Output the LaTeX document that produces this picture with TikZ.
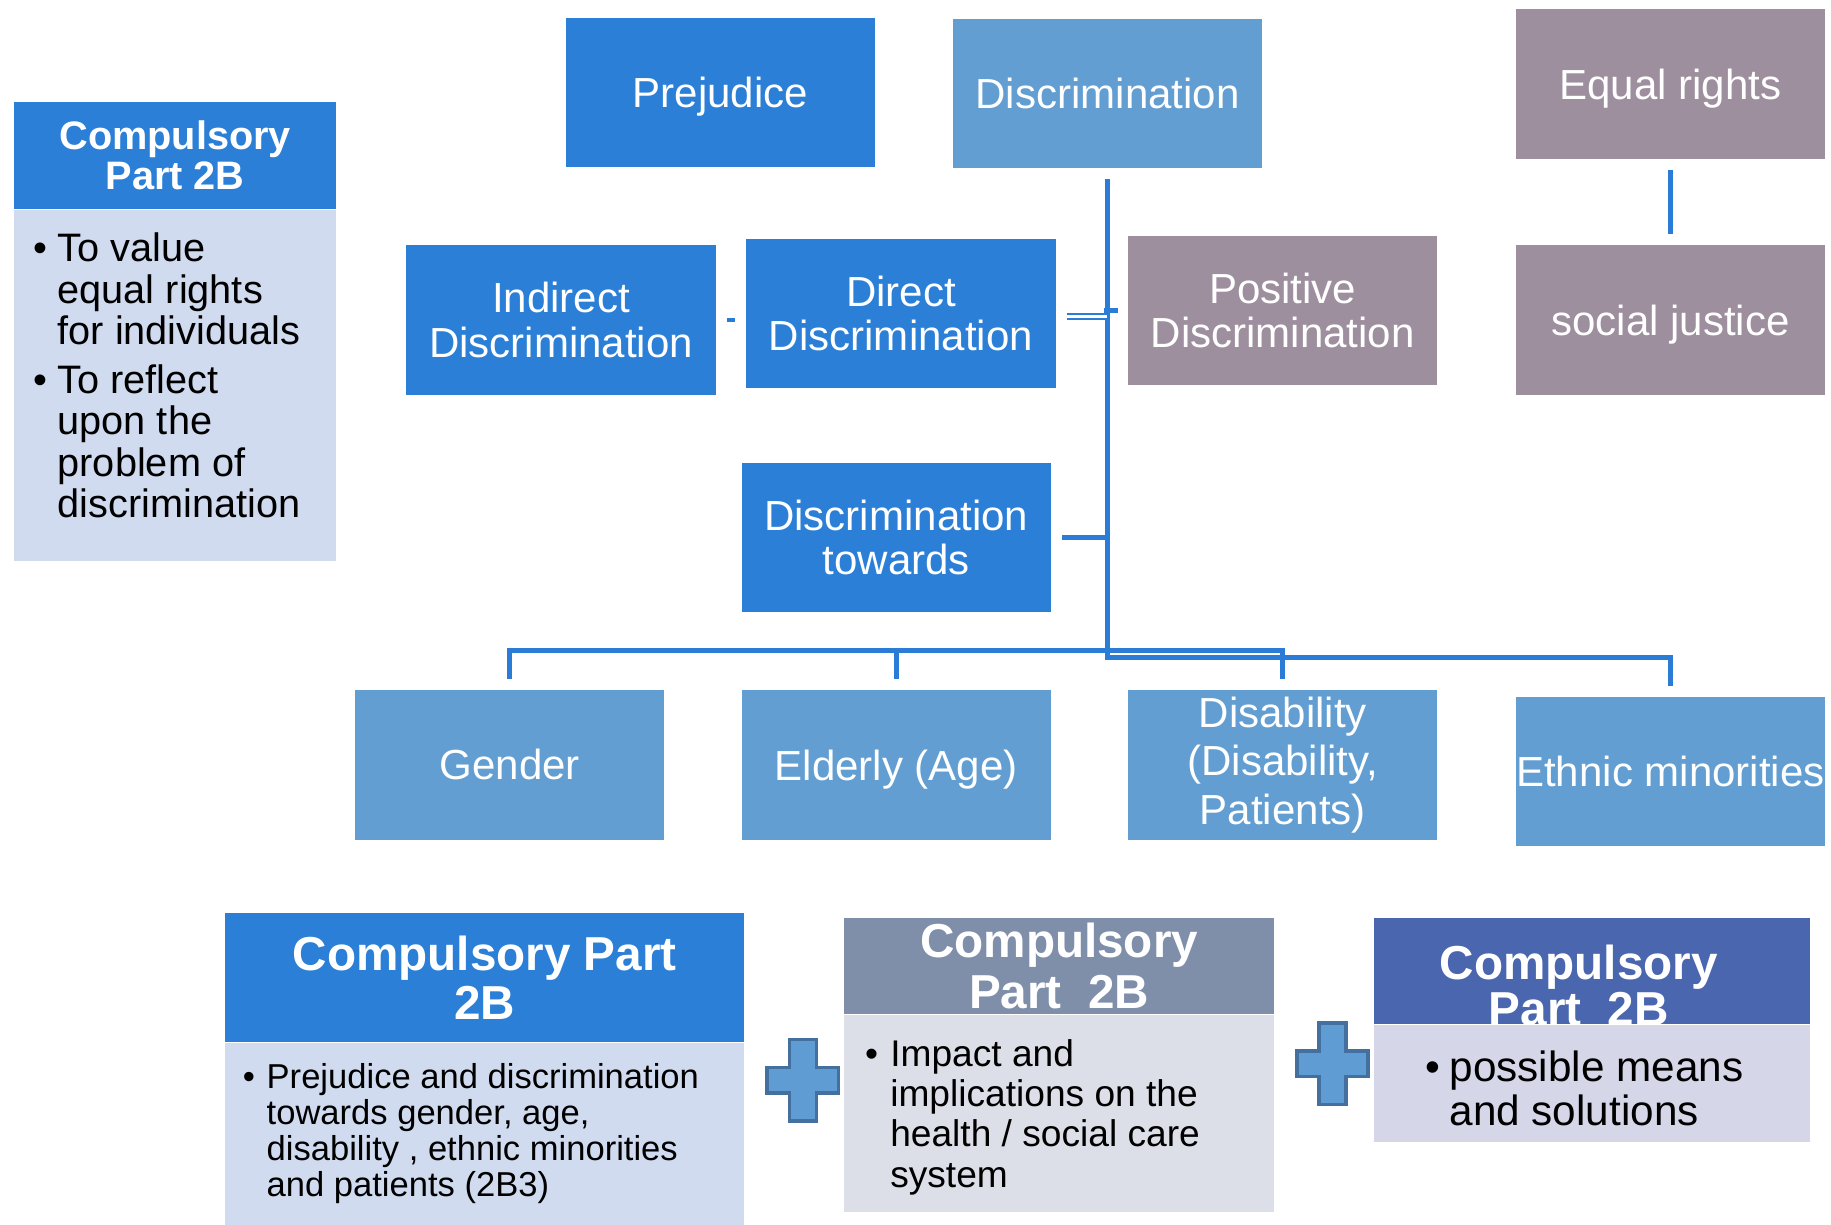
\documentclass[tikz,border=0pt]{standalone}
\usepackage{fontspec}
\setmainfont{Liberation Sans}
\definecolor{sblue}{HTML}{2B7FD6}
\definecolor{lblue}{HTML}{629ED2}
\definecolor{mauve}{HTML}{9E8F9F}
\definecolor{bodyblue}{HTML}{D0DBEF}
\definecolor{hdrgray}{HTML}{7F8FAA}
\definecolor{bodygray}{HTML}{DCDFE8}
\definecolor{hdrindigo}{HTML}{4A66AE}
\definecolor{bodylav}{HTML}{D5D7E8}
\definecolor{connblue}{HTML}{2B7CD6}
\definecolor{plusfill}{HTML}{5F9CD4}
\definecolor{plusedge}{HTML}{44709F}
\newcommand\bitem[1]{\hangindent=#1\hangafter=1\noindent\makebox[#1][l]{•}}
\begin{document}
\begin{tikzpicture}[x=0.5pt,y=-0.5pt,
  box/.style={rectangle, inner sep=0pt, minimum width=132.5pt, minimum height=64pt, align=center, text=white, font=\fontsize{18}{19}\selectfont},
  nodesc/.style={text depth=0pt},
  hdr/.style={rectangle, inner sep=0pt, align=center, text=white},
  bodyrect/.style={rectangle, inner sep=0pt, anchor=north},
  conn/.style={draw=connblue, line width=2pt},
  plusst/.style={fill=plusfill, draw=plusedge, line width=1.5pt, line join=miter}]
\useasboundingbox (0,0) rectangle (1568,1049);
\fill[white] (0,0) rectangle (1568,1049);

% main boxes
\node[box, nodesc, fill=sblue] (prej) at (617,79) {Prejudice};
\node[box, fill=lblue] (disc) at (948.5,80) {Discrimination};
\node[box, nodesc, fill=mauve] (equal) at (1430.5,72) {Equal rights};
\node[box, nodesc, fill=mauve] (social) at (1430.5,274) {social justice};
\node[box, fill=sblue] (indirect) at (480.5,274) {Indirect\\Discrimination};
\node[box, fill=sblue] (direct) at (771.5,268.5) {Direct\\Discrimination};
\node[box, fill=mauve] (positive) at (1098.5,266) {Positive\\Discrimination};
\node[box, fill=sblue] (towards) at (767.5,460.5) {Discrimination\\towards};
\node[box, fill=lblue] (gender) at (436.5,655) {Gender};
\node[box, nodesc, fill=lblue] (elderly) at (767.5,655) {Elderly (Age)};
\node[box, fill=lblue, font=\fontsize{18}{20.75}\selectfont] (disab) at (1098.5,655) {Disability\\(Disability,\\Patients)};
\node[box, fill=lblue] (ethnic) at (1430.5,660.5) {Ethnic minorities};

% connectors
\coordinate (trunkend) at (948.5,563);
\coordinate (busA) at (948.5,557);
\draw[conn] ([yshift=-4.5pt]disc.south) -- (trunkend) -| ([yshift=4.5pt]ethnic.north);
\draw[conn] ([yshift=4.5pt]gender.north) |- (busA) -| ([yshift=4.5pt]disab.north);
\draw[conn] ([yshift=4.5pt]elderly.north) -- (elderly.north |- busA);
\draw[conn] ([xshift=4.5pt]towards.east) -- (towards.east -| busA);
\draw[draw=connblue, line width=1pt, double=white, double distance=1pt] ([xshift=4.5pt,yshift=-1.25pt]direct.east) -- ++(17.5pt,0);
\draw[conn] ([xshift=-4pt]positive.west) -- ([xshift=-10pt]positive.west);
\draw[conn] ([xshift=4.5pt]indirect.east) -- ([xshift=-4.5pt]direct.west |- indirect.east);
\draw[conn] ([yshift=-4.5pt]equal.south) -- ([yshift=4.5pt]social.north);

% left box
\node[hdr, fill=sblue, minimum width=138pt, minimum height=46pt, font=\bfseries\fontsize{17}{17.5}\selectfont] (lhead) at (150,133) {Compulsory\\Part 2B};
\node[bodyrect, fill=bodyblue, minimum width=138pt, minimum height=150.5pt] (lbody) at (lhead.south) {};
\node[anchor=base west, inner sep=0pt] (ltext) at (28.3,224) {\parbox[t]{130pt}{\fontsize{17}{17.75}\selectfont
\bitem{10.35pt}To value\newline equal rights\newline for individuals\par\vspace{3.25pt}
\bitem{10.35pt}To reflect\newline upon the\newline problem of\newline discrimination\par}};

% bottom box A
\node[hdr, fill=sblue, minimum width=222pt, minimum height=55pt, font=\bfseries\fontsize{20.4}{21}\selectfont] (hA) at (415,837) {Compulsory Part\\2B};
\node[bodyrect, fill=bodyblue, minimum width=222pt, minimum height=78.5pt] (bA) at (hA.south) {};
\node[anchor=base west, inner sep=0pt] (tA) at (207.5,932) {\parbox[t]{210pt}{\fontsize{14.8}{15.5}\selectfont
\bitem{10.25pt}Prejudice and discrimination\newline towards gender, age,\newline disability , ethnic minorities\newline and patients (2B3)\par}};

% bottom box B
\node[hdr, fill=hdrgray, minimum width=184pt, minimum height=41pt, font=\bfseries\fontsize{20.4}{22}\selectfont] (hB) at (907,827) {Compulsory\\Part~~2B};
\node[bodyrect, fill=bodygray, minimum width=184pt, minimum height=84.5pt] (bB) at (hB.south) {};
\node[anchor=base west, inner sep=0pt] (tB) at (740.4,913) {\parbox[t]{170pt}{\fontsize{15.9}{17.25}\selectfont
\bitem{10.8pt}Impact and\newline implications on the\newline health / social care\newline system\par}};

% bottom box C
\node[hdr, fill=hdrindigo, minimum width=186.5pt, minimum height=45.5pt] (hC) at (1363.5,831.5) {};
\node[hdr, font=\bfseries\fontsize{20.4}{20}\selectfont] (hCtext) at (1352,844) {Compulsory\\Part~~2B};
\node[bodyrect, fill=bodylav, minimum width=186.5pt, minimum height=50pt] (bC) at (hC.south) {};
\node[anchor=base west, inner sep=0pt] (tC) at (1220.2,926) {\parbox[t]{170pt}{\fontsize{18.1}{19}\selectfont
\bitem{10.4pt}possible means\newline and solutions\par}};

% plus signs
\foreach \c in {(687.5,925),(1141,911)}
  \draw[plusst, shift={\c}] (-11.5,-35) -- (11.5,-35) -- (11.5,-11) -- (30.5,-11) -- (30.5,11) -- (11.5,11) -- (11.5,35) -- (-11.5,35) -- (-11.5,11) -- (-30.5,11) -- (-30.5,-11) -- (-11.5,-11) -- cycle;
\end{tikzpicture}
\end{document}
